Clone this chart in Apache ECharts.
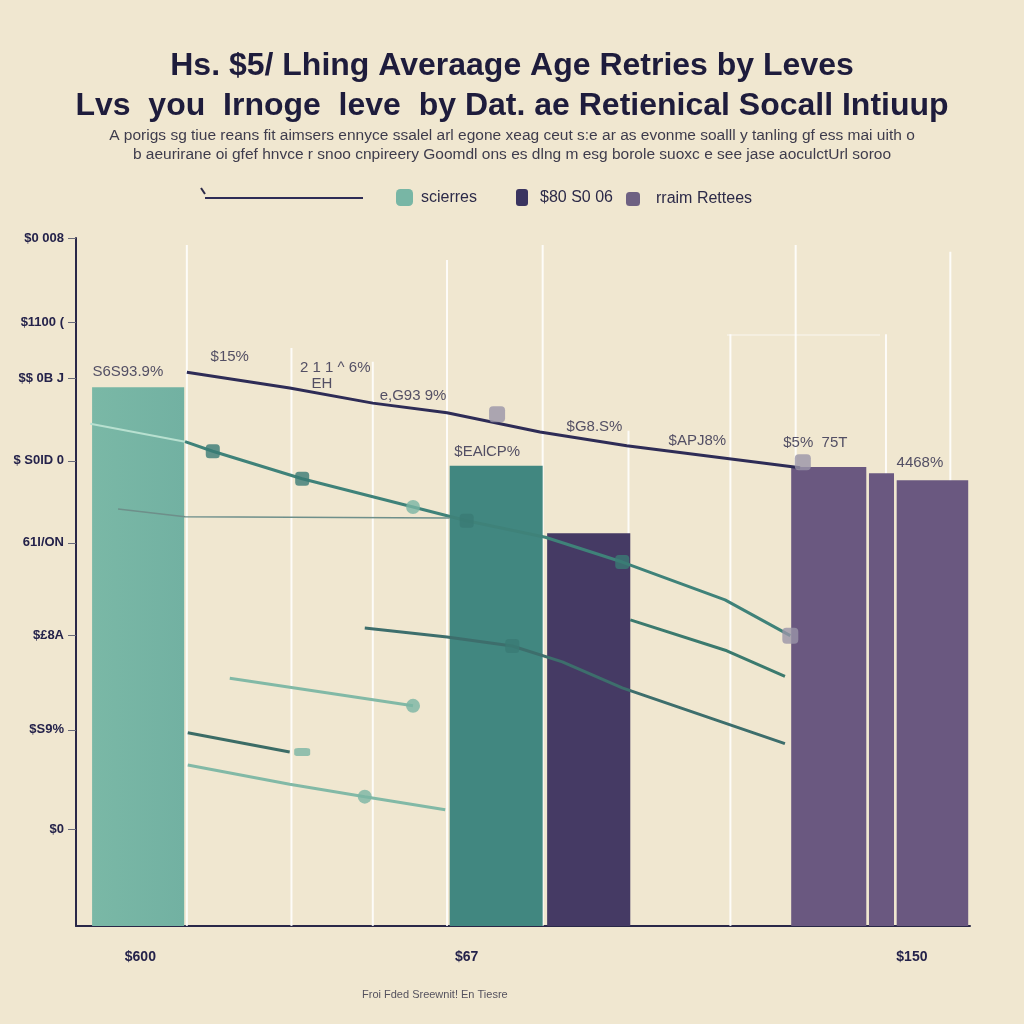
<!DOCTYPE html>
<html>
<head>
<meta charset="utf-8">
<script src="https://cdn.jsdelivr.net/npm/echarts@6/dist/echarts.min.js"></script>
<style>
html,body{margin:0;padding:0;background:#f0e7d0;}
#chart{width:1024px;height:1024px;}
</style>
</head>
<body>
<div id="chart"></div>
<script>
// ---------- DATA ----------
const titleText = "Hs. $5/ Lhing Averaage Age Retries by Leves\nLvs  you  Irnoge  leve  by Dat. ae Retienical Socall Intiuup";
const subText = "A porigs sg tiue reans fit aimsers ennyce ssalel arl egone xeag ceut s:e ar as evonme soalll y tanling gf ess mai uith o\nb aeurirane oi gfef hnvce r snoo cnpireery Goomdl ons es dlng m esg borole suoxc e see jase aoculctUrl soroo";
const xAxisTitle = "Froi Fded Sreewnit! En Tiesre";

const yTickValues = [14, 28.5, 42.2, 55.7, 67.6, 79.6, 87.8, 100];
const yTickLabels = ["$0", "$S9%", "$£8A", "61l/ON", "$ S0lD 0", "$$ 0B J", "$1100 (", "$0 008"];
const xTickValues = [7.2, 43.7, 93.5];
const xTickLabels = ["$600", "$67", "$150"];

const seriesNames = ["scierres", "$80 S0 06", "rraim Rettees"];
// bars: [xStart, xEnd, top]
const barsTeal = [[1.8, 12.1, 78.3]];
const barsTealDark = [[41.8, 52.2, 66.9]];
const barsNavy = [[52.7, 62.0, 57.1]];
const barsPurple = [[80.0, 88.4, 66.7], [88.7, 91.5, 65.8], [91.8, 99.8, 64.8]];

// white vertical guide lines: [x, top]
const guides = [[12.4, 99], [24.1, 84], [33.2, 82], [41.5, 96.8], [52.2, 99], [61.8, 72], [73.2, 86], [80.5, 99], [90.6, 86], [97.8, 98]];

// lines: [x, y]
const trendLine = [[12.4, 80.5], [23.9, 78.2], [33.2, 76.0], [41.5, 74.6], [51.9, 71.8], [61.6, 69.8], [81.0, 66.6]];
const tealLineA = [[12.2, 70.4], [15.3, 69.0], [25.3, 65.0], [37.7, 60.9], [43.7, 58.9], [52.5, 56.5], [61.1, 52.9], [72.6, 47.4], [79.9, 42.2]];
const tealLineA0 = [[1.6, 73.0], [12.2, 70.4]];
const thinLineB = [[4.7, 60.6], [12.2, 59.5], [41.8, 59.3]];
const lineC = [[32.3, 43.3], [41.5, 42.0], [48.8, 40.7], [54.4, 38.4], [61.1, 34.6], [79.3, 26.5]];
const lineD = [[62.0, 44.5], [72.8, 40.0], [79.3, 36.3]];
const lineE = [[17.2, 36.0], [37.7, 32.0]];
const lineF = [[12.5, 28.1], [23.9, 25.3]];
const lineG = [[12.5, 23.4], [23.9, 20.6], [32.3, 18.8], [41.3, 16.9]];

const darkSquares = [[15.3, 69.0], [25.3, 65.0], [43.7, 58.9], [61.1, 52.9], [48.8, 40.7]];
const graySquares = [[47.1, 74.4], [81.3, 67.4], [79.9, 42.2]];
const lightCircles = [[37.7, 60.9], [37.7, 32.0], [32.3, 18.8]];
const pillMarks = [[25.3, 25.3]];

// value labels: [x, y, text]
const valueLabels = [
  [5.8, 80.5, "S6S93.9%"], [17.2, 82.7, "$15%"], [29.0, 81.1, "2 1 1 ^ 6%"],
  [27.5, 78.8, "EH"], [37.7, 77.0, "e,G93 9%"], [46.0, 68.9, "$EAlCP%"],
  [58.0, 72.5, "$G8.S%"], [69.5, 70.5, "$APJ8%"], [82.7, 70.2, "$5%  75T"],
  [94.4, 67.3, "4468%"]
];

// ---------- CHART ----------
const chart = echarts.init(document.getElementById('chart'));
const FONT = "Liberation Sans";

function barRender(color) {
  return function (params, api) {
    const p0 = api.coord([api.value(0), api.value(2)]);
    const p1 = api.coord([api.value(1), 0]);
    return {
      type: 'rect',
      shape: { x: p0[0], y: p0[1], width: p1[0] - p0[0], height: p1[1] - p0[1] },
      style: { fill: color }
    };
  };
}
function guideRender(params, api) {
  const p0 = api.coord([api.value(0), api.value(1)]);
  const p1 = api.coord([api.value(0), 0]);
  return {
    type: 'line',
    shape: { x1: p0[0], y1: p0[1], x2: p1[0], y2: p1[1] },
    style: { stroke: '#ffffff', lineWidth: 2, opacity: 0.85 }
  };
}
function lineSeries(name, data, color, width, z) {
  return { name: name, type: 'line', data: data, showSymbol: false, symbol: 'none',
    lineStyle: { color: color, width: width }, itemStyle: { color: color }, z: z || 5, silent: true };
}

const option = {
  backgroundColor: '#f0e7d0',
  animation: false,
  title: {
    text: titleText,
    subtext: subText,
    left: 'center',
    top: 41,
    itemGap: 0,
    textStyle: { fontFamily: FONT, fontSize: 32, fontWeight: 'bold', color: '#1e1c3c', lineHeight: 40 },
    subtextStyle: { fontFamily: FONT, fontSize: 15.5, color: '#3e3c4c', lineHeight: 19 }
  },
  legend: [
    { data: [{ name: 'trend', icon: 'rect' }], left: 200, top: 192, itemWidth: 158, itemHeight: 2, formatter: function () { return ''; }, textStyle: { fontSize: 1 } },
    { data: [seriesNames[0]], left: 391, top: 184, itemWidth: 17, itemHeight: 17, textStyle: { fontFamily: FONT, fontSize: 16, color: '#2c2a48', padding: [0, 0, 0, 3] } },
    { data: [seriesNames[1]], left: 511, top: 184, itemWidth: 12, itemHeight: 17, textStyle: { fontFamily: FONT, fontSize: 16, color: '#2c2a48', padding: [0, 0, 0, 7] } },
    { data: [seriesNames[2]], left: 621, top: 186, itemWidth: 14, itemHeight: 14, textStyle: { fontFamily: FONT, fontSize: 16, color: '#2c2a48', padding: [0, 0, 0, 11] } }
  ],
  grid: { left: 76, right: 54, top: 238, bottom: 98 },
  xAxis: {
    type: 'value', min: 0, max: 100,
    axisLine: { show: true, lineStyle: { color: '#2a2848', width: 2 } },
    axisTick: { show: false },
    splitLine: { show: false },
    axisLabel: {
      customValues: xTickValues, margin: 24,
      fontFamily: FONT, fontSize: 14, fontWeight: 'bold', color: '#24224a',
      formatter: function (v) { const i = xTickValues.indexOf(v); return i >= 0 ? xTickLabels[i] : ''; }
    }
  },
  yAxis: {
    type: 'value', min: 0, max: 100,
    axisLine: { show: true, lineStyle: { color: '#2a2848', width: 2 } },
    axisTick: { show: true, customValues: yTickValues, length: 8, lineStyle: { color: '#6a6a7a' } },
    splitLine: { show: false },
    axisLabel: {
      customValues: yTickValues, margin: 12,
      fontFamily: FONT, fontSize: 13, fontWeight: 'bold',
      color: function (v) { return v === yTickValues[0] ? '#2f8a6a' : '#24224a'; },
      formatter: function (v) { const i = yTickValues.indexOf(v); return i >= 0 ? yTickLabels[i] : ''; }
    }
  },
  graphic: [
    { type: 'text', left: 362, top: 989, style: { text: xAxisTitle, fontFamily: FONT, fontSize: 11, fill: '#55525e' } },
    { type: 'line', shape: { x1: 201, y1: 188, x2: 205, y2: 194 }, style: { stroke: '#2a2848', lineWidth: 2 } },
    { type: 'line', shape: { x1: 727, y1: 335, x2: 880, y2: 335 }, style: { stroke: '#ffffff', lineWidth: 1, opacity: 0.7 } }
  ],
  series: [
    { name: 'guides', type: 'custom', renderItem: guideRender, data: guides, z: 1, silent: true },
    { name: seriesNames[0], type: 'custom', renderItem: barRender(new echarts.graphic.LinearGradient(0, 0, 1, 0, [{offset: 0, color: '#7ab8a6'}, {offset: 1, color: '#72b1a2'}])), data: barsTeal, itemStyle: { color: '#78b6a5' }, z: 2 },
    { name: seriesNames[0] + ' ', type: 'custom', renderItem: barRender('#418780'), data: barsTealDark, z: 2 },
    { name: seriesNames[1], type: 'custom', renderItem: barRender('#453a64'), data: barsNavy, itemStyle: { color: '#3a3460' }, z: 2 },
    { name: seriesNames[2], type: 'custom', renderItem: barRender('#6a5880'), data: barsPurple, itemStyle: { color: '#6e6182' }, z: 2 },
    lineSeries('trend', trendLine, '#2e2c56', 3, 6),
    lineSeries('lineA0', tealLineA0, '#b8e0d0', 2),
    lineSeries('lineA', tealLineA, '#3f8279', 3),
    lineSeries('lineB', thinLineB, '#6e8f8a', 1.5),
    lineSeries('lineC', lineC, '#3d6e6c', 3),
    lineSeries('lineD', lineD, '#3b7a6e', 3),
    lineSeries('lineE', lineE, '#82b9a6', 3),
    lineSeries('lineF', lineF, '#3b6c66', 3),
    lineSeries('lineG', lineG, '#82b9a6', 3),
    { name: 'darkSq', type: 'scatter', data: darkSquares, symbol: 'roundRect', symbolSize: 14, itemStyle: { color: '#3a7a74' }, z: 7, silent: true },
    { name: 'graySq', type: 'scatter', data: graySquares, symbol: 'roundRect', symbolSize: 16, itemStyle: { color: '#9a95a8' }, z: 7, silent: true },
    { name: 'lightC', type: 'scatter', data: lightCircles, symbol: 'circle', symbolSize: 14, itemStyle: { color: '#7ab5a4' }, z: 7, silent: true },
    { name: 'pill', type: 'scatter', data: pillMarks, symbol: 'roundRect', symbolSize: [16, 8], itemStyle: { color: '#7ab5a4' }, z: 7, silent: true },
    { name: 'labels', type: 'scatter', data: valueLabels, symbolSize: 0, z: 8, silent: true,
      label: { show: true, position: 'inside', fontFamily: FONT, fontSize: 15, color: '#2a2848',
        formatter: function (p) { return p.data[2]; } } }
  ]
};
chart.setOption(option);
</script>
</body>
</html>
